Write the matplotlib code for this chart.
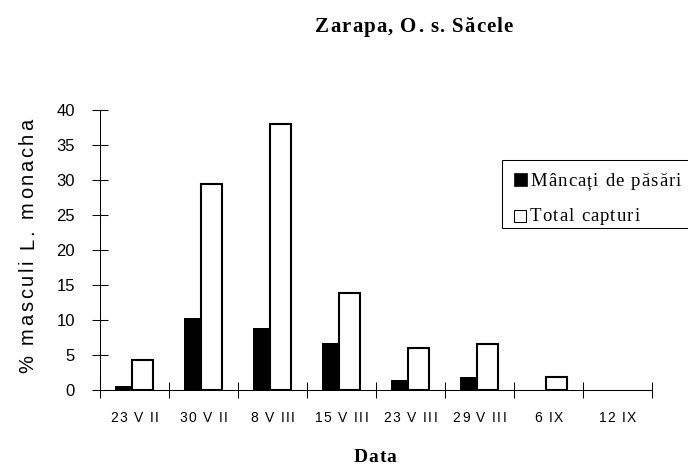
import numpy as np
import matplotlib.pyplot as plt
from matplotlib import font_manager
from matplotlib.font_manager import FontProperties
from matplotlib.ft2font import FT2Font
from matplotlib.patches import Rectangle
from matplotlib.transforms import IdentityTransform

dates = ['23 V II', '30 V II', '8 V III', '15 V III', '23 V III', '29 V III', '6 IX', '12 IX']
eaten = [0.6, 10.3, 8.9, 6.7, 1.5, 1.8, 0.0, 0.0]        # Mâncați de păsări
total = [4.3, 29.4, 38.0, 13.8, 6.0, 6.6, 1.8, 0.0]       # Total capturi
legend_labels = ['Mâncați de păsări', 'Total capturi']
title = 'Zarapa, O. s. Săcele'
xlabel = 'Data'
ylabel = '% masculi L. monacha'

W, H = 688, 470
SANS = 'Liberation Sans'
SERIF = 'Liberation Serif'

fig = plt.figure(figsize=(W / 100, H / 100), dpi=100)
ax = fig.add_axes([100 / W, 80 / H, 552 / W, 280 / H])


# old excel charts stretch the letters apart, so text is laid out char by char
def advances(s, prop):
    font = FT2Font(font_manager.findfont(prop), hinting_factor=1)
    font.set_size(prop.get_size_in_points(), 100)
    return [font.load_char(ord(ch)).linearHoriAdvance / 65536 for ch in s]


def tracked(x, y, s, prop, track, ha='center', rot=0):
    """x, y in pixels from the top left corner, y is the baseline."""
    adv = advances(s, prop)
    width = sum(adv) + track * (len(s) - 1)
    pos = {'center': -width / 2, 'left': 0.0, 'right': -width}[ha]
    dx, dy = (1, 0) if rot == 0 else (0, 1)
    for ch, a in zip(s, adv):
        if ch != ' ':
            c = pos + a / 2
            fig.text(x + dx * c, H - y + dy * c, ch, fontproperties=prop,
                     ha='center', va='baseline', rotation=rot,
                     rotation_mode='anchor', transform=IdentityTransform())
        pos += a + track


# ── bars ──────────────────────────────────────────────────────────────────────
x = np.arange(len(dates))
ax.bar(x - 0.167, eaten, width=0.232, color='black', linewidth=0)
ax.bar(x + 0.116, total, width=0.29, color='white', edgecolor='black',
       linewidth=[1.5 if v > 0 else 0 for v in total])

ax.set_xlim(-0.5, len(dates) - 0.5)
ax.set_ylim(0, 40)
ax.set_yticks(np.arange(0, 41, 5))
ax.set_xticks(np.arange(len(dates) + 1) - 0.5)
ax.set_xticklabels([])
ax.tick_params(axis='x', direction='inout', length=11, width=0.75)
ax.tick_params(axis='y', direction='inout', length=12, width=0.75, pad=12)
for lab in ax.get_yticklabels():
    lab.set_fontproperties(FontProperties(family=SANS, size=12))
for s in ['top', 'right']:
    ax.spines[s].set_visible(False)
for s in ['left', 'bottom']:
    ax.spines[s].set_linewidth(0.75)

# x tick labels, centred under each date
xt_prop = FontProperties(family=SANS, size=10)
for xi, d in zip(x, dates):
    px = ax.transData.transform((xi, 0))[0]
    tracked(px, 422, d, xt_prop, 1.3)

# ── texts ─────────────────────────────────────────────────────────────────────
tracked(414, 32, title, FontProperties(family=SERIF, weight='bold', size=15), 1.0)
tracked(375, 462, xlabel, FontProperties(family=SERIF, weight='bold', size=14), 1.2)
tracked(33, 246, ylabel, FontProperties(family=SANS, size=14.5), 2.8, rot=90)

# ── legend (runs off the right edge like the original) ───────────────────────
fig.add_artist(Rectangle((502, H - 228), 230, 68, facecolor='white',
                         edgecolor='black', linewidth=0.75,
                         transform=IdentityTransform()))
fig.add_artist(Rectangle((514, H - 186), 13, 13, facecolor='black',
                         edgecolor='black', linewidth=0.5,
                         transform=IdentityTransform()))
fig.add_artist(Rectangle((514, H - 222), 12, 12, facecolor='white',
                         edgecolor='black', linewidth=0.75,
                         transform=IdentityTransform()))
leg_prop = FontProperties(family=SERIF, size=13.5)
tracked(530, 186, legend_labels[0], leg_prop, 1.0, ha='left')
tracked(530, 221, legend_labels[1], leg_prop, 1.0, ha='left')

fig.savefig('out.png', dpi=100)
